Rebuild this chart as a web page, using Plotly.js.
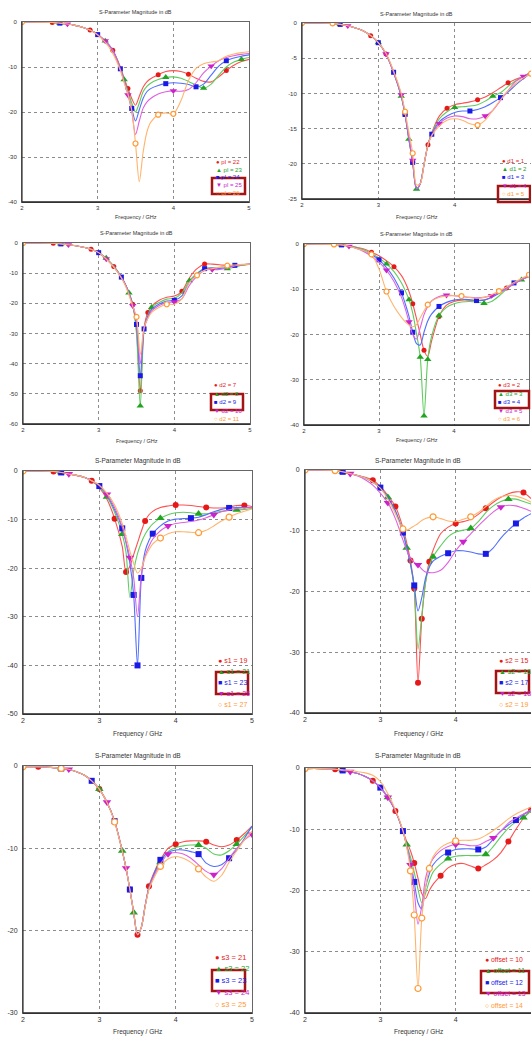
<!DOCTYPE html>
<html><head><meta charset="utf-8">
<script src="https://cdn.plot.ly/plotly-3.0.1.min.js"></script>
<style>html,body{margin:0;padding:0;background:#fff}#chart{width:531px;height:1038px}</style>
</head><body><div id="chart"></div>
<script>
// ---------------- DATA ----------------
const FREQ = [2.0,2.2,2.4,2.5,2.6,2.7,2.8,2.9,3.0,3.1,3.2,3.3,3.35,3.4,3.45,3.5,3.55,3.6,3.65,3.7,3.8,3.9,4.0,4.1,4.2,4.3,4.4,4.5,4.6,4.7,4.8,4.9,5.0];
const X_TICKS = [2,3,4,5];
const TITLE_TEXT = 'S-Parameter Magnitude in dB';
const XLABEL_TEXT = 'Frequency / GHz';

// Panel 1 (pl)
const p1_labels = ['pl = 22','pl = 23','pl = 24','pl = 25','pl = 26'];
const p1_yticks = [0,-10,-20,-30,-40];
const p1_a = [0,-0.05,-0.1,-0.25,-0.45,-0.75,-1.15,-1.8,-2.8,-4.2,-6.3,-10.0,-12.5,-14.8,-17.0,-18.5,-16.5,-14.5,-13.3,-12.6,-11.7,-11.0,-10.8,-11.0,-11.6,-12.5,-13.2,-13.3,-12.2,-10.8,-9.6,-8.8,-8.3];
const p1_b = [0,-0.05,-0.1,-0.25,-0.45,-0.75,-1.15,-1.8,-2.8,-4.2,-6.3,-10.2,-12.8,-15.3,-18.0,-20.0,-18.0,-15.5,-14.3,-13.6,-12.8,-12.3,-12.2,-12.5,-13.2,-14.0,-14.7,-13.8,-11.8,-10.0,-8.9,-8.3,-7.9];
const p1_c = [0,-0.05,-0.1,-0.25,-0.45,-0.75,-1.15,-1.8,-2.8,-4.2,-6.3,-10.4,-13.0,-15.7,-19.2,-22.0,-19.5,-17.0,-15.5,-14.8,-14.1,-13.7,-13.5,-13.6,-13.9,-14.4,-13.8,-11.8,-9.8,-8.6,-8.0,-7.6,-7.3];
const p1_d = [0,-0.05,-0.1,-0.25,-0.45,-0.75,-1.15,-1.8,-2.8,-4.2,-6.3,-10.5,-13.2,-16.2,-19.8,-25.0,-22.0,-19.2,-17.8,-17.0,-16.0,-15.5,-15.3,-15.4,-15.0,-13.5,-11.3,-9.8,-8.6,-7.9,-7.5,-7.2,-7.0];
const p1_e = [0,-0.05,-0.1,-0.25,-0.45,-0.75,-1.15,-1.8,-2.9,-4.5,-7.0,-10.8,-13.5,-16.0,-19.5,-27.0,-35.5,-29.0,-24.5,-22.3,-20.6,-20.2,-20.4,-17.5,-13.0,-10.3,-9.3,-8.9,-8.6,-7.6,-7.1,-6.8,-6.6];
const p1_marks = [[2.4,2.9,3.2,3.4,3.8,4.2,4.7],[2.5,3.1,3.35,3.9,4.4,4.9],[2.5,3.0,3.3,3.45,3.9,4.3,4.7],[2.6,3.1,3.4,4.0,4.5],[2.0,3.5,3.8,4.0]];

// Panel 2 (d1)
const p2_labels = ['d1 = 1','d1 = 2','d1 = 3','d1 = 4','d1 = 5'];
const p2_yticks = [0,-5,-10,-15,-20,-25];
const p2_a = [0,0,-0.05,-0.2,-0.4,-0.7,-1.1,-1.8,-2.8,-4.4,-7.0,-10.4,-13.0,-16.5,-19.8,-23.6,-22.8,-20.0,-17.3,-15.6,-13.2,-12.1,-11.6,-11.4,-11.2,-10.9,-10.5,-9.9,-9.2,-8.5,-8.0,-7.6,-7.0];
const p2_b = [0,0,-0.05,-0.2,-0.4,-0.7,-1.1,-1.8,-2.8,-4.4,-7.0,-10.4,-13.0,-16.5,-19.8,-23.6,-22.8,-20.0,-17.3,-15.7,-13.6,-12.6,-12.0,-11.9,-11.8,-11.6,-11.1,-10.4,-9.9,-9.0,-8.2,-7.6,-7.0];
const p2_c = [0,0,-0.05,-0.2,-0.4,-0.7,-1.1,-1.8,-2.8,-4.4,-7.0,-10.4,-13.0,-16.5,-19.8,-23.6,-22.8,-20.0,-17.3,-15.8,-14.0,-13.2,-12.7,-12.5,-12.5,-12.3,-11.9,-11.3,-10.6,-9.8,-8.8,-7.9,-7.1];
const p2_d = [0,0,-0.05,-0.2,-0.4,-0.7,-1.1,-1.8,-2.8,-4.4,-7.0,-10.2,-12.8,-16.2,-19.5,-23.5,-22.8,-20.0,-17.3,-15.9,-14.3,-13.5,-13.2,-13.3,-13.6,-13.6,-13.2,-12.4,-11.0,-9.6,-8.3,-7.6,-7.0];
const p2_e = [0,0,-0.05,-0.2,-0.4,-0.7,-1.1,-1.8,-2.8,-4.3,-6.8,-10.0,-12.6,-15.5,-18.5,-23.0,-22.8,-20.0,-17.3,-16.0,-14.6,-13.8,-13.6,-13.8,-14.3,-14.5,-13.8,-12.4,-10.9,-9.6,-8.6,-7.8,-7.2];
const p2_marks = [[2.4,2.9,3.1,3.35,3.45,3.65,3.9,4.3,4.7],[2.5,3.0,3.3,3.4,3.5,4.0,4.5],[2.5,3.0,3.2,3.35,3.45,3.7,4.2,4.6],[2.6,3.1,3.3,3.45,3.8,4.4,4.9],[2.0,2.4,3.35,3.45,4.3,5.0]];

// Panel 3 (d2)
const p3_labels = ['d2 = 7','d2 = 8','d2 = 9','d2 = 10','d2 = 11'];
const p3_yticks = [0,-10,-20,-30,-40,-50,-60];
const p3_a = [0,0,-0.1,-0.3,-0.6,-0.9,-1.4,-2.1,-3.2,-5.2,-7.8,-11.3,-13.6,-16.5,-20.3,-29.0,-49.0,-28.0,-23.0,-21.0,-19.0,-18.0,-17.6,-16.0,-11.5,-8.5,-7.0,-7.0,-7.2,-7.5,-7.6,-7.3,-7.0];
const p3_b = [0,0,-0.1,-0.3,-0.6,-0.9,-1.4,-2.1,-3.2,-5.0,-7.6,-11.2,-13.5,-16.5,-20.3,-30.0,-54.0,-29.0,-24.0,-21.3,-19.7,-18.6,-18.3,-16.5,-12.5,-10.0,-8.5,-8.2,-8.3,-8.5,-8.0,-7.4,-7.0];
const p3_c = [0,0,-0.1,-0.3,-0.6,-0.9,-1.4,-2.1,-3.2,-5.2,-7.8,-11.3,-13.6,-16.6,-20.5,-27.0,-44.0,-28.5,-24.3,-22.0,-20.2,-19.2,-19.0,-17.5,-13.0,-10.3,-8.5,-8.3,-8.4,-8.1,-7.4,-7.2,-7.0];
const p3_d = [0,0,-0.1,-0.3,-0.6,-0.9,-1.4,-2.1,-3.2,-5.3,-7.9,-11.4,-13.7,-16.8,-20.8,-25.5,-40.0,-28.5,-24.8,-22.5,-20.7,-19.7,-19.5,-18.5,-14.0,-11.0,-9.0,-8.8,-8.8,-8.3,-7.6,-7.2,-7.0];
const p3_e = [0,0,-0.1,-0.3,-0.6,-0.9,-1.4,-2.1,-3.2,-5.3,-8.0,-11.6,-14.0,-17.2,-21.0,-24.5,-37.0,-28.0,-25.0,-23.0,-21.3,-20.3,-20.3,-18.5,-13.0,-10.7,-9.0,-8.5,-8.0,-7.5,-7.3,-7.1,-7.0];
const p3_marks = [[2.4,2.9,3.2,3.45,3.55,3.65,4.1,4.4],[2.5,3.1,3.4,3.55,3.7,4.2,4.7],[2.5,3.0,3.3,3.5,3.55,3.6,4.0,4.4,4.8],[2.6,3.1,3.45,4.0,4.5],[2.0,3.5,3.9,4.3,4.7]];

// Panel 4 (d3)
const p4_labels = ['d3 = 2','d3 = 3','d3 = 4','d3 = 5','d3 = 6'];
const p4_yticks = [0,-10,-20,-30,-40];
const p4_a = [0,-0.05,-0.1,-0.2,-0.4,-0.7,-1.1,-1.8,-2.6,-3.7,-5.0,-7.0,-8.5,-10.5,-13.2,-16.5,-20.0,-23.5,-24.8,-21.5,-16.0,-13.5,-12.7,-12.4,-12.4,-12.5,-12.4,-11.7,-10.7,-9.7,-8.8,-7.9,-7.0];
const p4_b = [0,-0.05,-0.1,-0.2,-0.45,-0.8,-1.3,-2.1,-3.1,-4.4,-6.1,-8.6,-10.3,-12.3,-15.3,-19.8,-25.0,-38.0,-25.5,-20.5,-15.8,-14.0,-13.2,-12.8,-12.7,-12.8,-13.1,-12.7,-11.5,-10.0,-8.8,-7.9,-7.2];
const p4_c = [0,-0.05,-0.1,-0.2,-0.5,-0.9,-1.5,-2.3,-3.5,-5.2,-7.5,-10.8,-13.2,-16.0,-19.5,-22.0,-22.3,-19.5,-17.0,-15.5,-13.8,-12.9,-12.4,-12.2,-12.3,-12.5,-12.4,-11.8,-10.9,-9.6,-8.6,-7.8,-7.1];
const p4_d = [0,-0.05,-0.1,-0.2,-0.5,-1.0,-1.7,-2.7,-4.0,-5.8,-8.3,-11.8,-14.3,-17.2,-20.0,-21.0,-18.5,-15.6,-13.8,-12.6,-11.6,-11.3,-11.4,-11.6,-11.8,-11.9,-11.8,-11.4,-10.8,-9.9,-8.8,-7.9,-7.1];
const p4_e = [0,-0.05,-0.1,-0.2,-0.5,-1.0,-1.5,-2.3,-5.5,-10.5,-13.8,-16.2,-17.2,-17.9,-18.3,-17.8,-16.3,-14.8,-13.4,-12.6,-11.8,-11.5,-11.4,-11.5,-11.8,-12.0,-11.8,-11.2,-10.4,-9.5,-8.5,-7.6,-6.8];
const p4_marks = [[2.4,2.9,3.2,3.45,3.6,3.8,4.3,4.7],[2.5,3.1,3.4,3.55,3.6,3.65,3.8,4.4,4.9],[2.5,3.0,3.3,3.45,3.8,4.3,4.8],[2.6,3.1,3.4,3.9,4.5],[2.0,2.4,2.9,3.1,3.65,4.1,4.6,5.0]];

// Panel 5 (s1)
const p5_labels = ['s1 = 19','s1 = 21','s1 = 23','s1 = 25','s1 = 27'];
const p5_yticks = [0,-10,-20,-30,-40,-50];
const p5_a = [0,0,-0.1,-0.3,-0.6,-0.9,-1.3,-2.0,-3.4,-5.8,-9.8,-15.5,-20.8,-19.6,-17.2,-14.8,-12.4,-10.3,-9.0,-8.3,-7.5,-7.2,-7.0,-7.0,-7.1,-7.3,-7.5,-7.6,-7.6,-7.4,-7.1,-7.1,-7.3];
const p5_b = [0,0,-0.1,-0.3,-0.6,-0.9,-1.3,-2.0,-3.3,-5.3,-8.5,-13.0,-16.8,-26.0,-20.5,-17.0,-14.7,-13.0,-11.8,-10.9,-9.7,-9.0,-8.6,-8.5,-8.6,-8.8,-8.8,-8.6,-8.3,-8.1,-8.0,-7.9,-7.7];
const p5_c = [0,0,-0.1,-0.3,-0.6,-0.9,-1.3,-2.0,-3.1,-5.0,-8.0,-11.8,-14.8,-19.0,-25.5,-40.0,-22.0,-16.5,-14.3,-12.9,-11.3,-10.3,-9.9,-9.8,-9.7,-9.5,-9.0,-8.4,-7.9,-7.6,-7.5,-7.5,-7.5];
const p5_d = [0,0,-0.1,-0.3,-0.6,-0.9,-1.3,-2.0,-3.0,-4.8,-7.5,-11.5,-14.5,-17.8,-22.0,-30.0,-21.5,-17.5,-15.5,-14.0,-12.3,-11.3,-10.8,-10.6,-10.4,-10.1,-9.6,-9.0,-8.4,-8.0,-7.7,-7.6,-7.5];
const p5_e = [0,0,-0.1,-0.3,-0.6,-0.9,-1.3,-2.0,-2.9,-4.6,-7.0,-10.8,-13.5,-16.5,-19.0,-21.0,-20.0,-17.8,-16.2,-15.0,-13.8,-12.9,-12.5,-12.5,-12.6,-12.7,-12.2,-11.3,-10.3,-9.5,-8.8,-8.3,-7.8];
const p5_marks = [[2.4,2.9,3.2,3.35,3.6,4.0,4.4,4.9],[2.5,3.1,3.3,3.8,4.3,4.8],[2.5,3.0,3.3,3.45,3.5,3.55,3.7,4.2,4.7],[2.6,3.1,3.4,3.9,4.5],[2.0,3.8,4.3,4.7]];

// Panel 6 (s2)
const p6_labels = ['s2 = 15','s2 = 16','s2 = 17','s2 = 18','s2 = 19'];
const p6_yticks = [0,-10,-20,-30,-40];
const p6_a = [0,0,-0.1,-0.3,-0.6,-0.9,-1.2,-1.7,-2.7,-4.2,-6.0,-9.5,-12.0,-14.9,-19.5,-35.0,-24.5,-18.5,-15.1,-13.2,-10.5,-9.4,-8.8,-8.5,-8.1,-7.3,-6.3,-5.3,-4.5,-3.9,-3.6,-3.7,-4.7];
const p6_b = [0,0,-0.1,-0.3,-0.6,-0.9,-1.3,-2.0,-3.0,-4.5,-6.8,-10.2,-12.8,-15.5,-19.5,-29.5,-24.0,-18.5,-15.8,-14.3,-12.5,-11.0,-10.2,-9.9,-9.6,-8.5,-7.0,-5.9,-5.2,-4.8,-4.8,-5.2,-5.6];
const p6_c = [0,0,-0.1,-0.3,-0.6,-0.9,-1.3,-2.0,-2.9,-4.5,-6.7,-10.3,-12.8,-15.5,-19.0,-23.2,-21.0,-17.8,-16.0,-15.0,-14.2,-13.7,-13.3,-13.3,-13.5,-13.8,-13.8,-12.8,-11.2,-9.9,-8.8,-7.9,-7.2];
const p6_d = [0,0,-0.1,-0.3,-0.6,-1.0,-1.6,-2.5,-3.8,-5.4,-8.0,-11.5,-13.2,-14.5,-15.2,-15.6,-16.3,-16.8,-16.9,-16.9,-16.5,-15.2,-13.3,-11.8,-10.5,-9.2,-8.0,-6.9,-6.1,-5.8,-5.9,-6.3,-6.8];
const p6_e = [0,0,-0.1,-0.3,-0.6,-0.9,-1.3,-2.0,-3.0,-4.8,-7.2,-9.7,-9.9,-9.6,-9.2,-8.8,-8.3,-8.0,-7.8,-7.7,-8.0,-8.4,-8.5,-8.1,-7.7,-7.0,-6.0,-5.0,-4.4,-4.2,-4.3,-4.7,-5.3];
const p6_marks = [[2.4,2.9,3.2,3.4,3.45,3.5,3.55,3.65,4.0,4.4,4.9],[2.5,3.1,3.35,3.7,4.2,4.7],[2.5,3.0,3.3,3.45,3.9,4.4,4.8],[2.6,3.1,3.5,4.1,4.6],[2.0,2.4,3.3,3.7,4.2]];

// Panel 7 (s3)
const p7_labels = ['s3 = 21','s3 = 22','s3 = 23','s3 = 24','s3 = 25'];
const p7_yticks = [0,-10,-20,-30];
const p7_a = [-0.1,-0.1,-0.2,-0.3,-0.4,-0.7,-1.1,-1.8,-2.8,-4.4,-6.7,-10.3,-12.4,-15.0,-17.8,-20.5,-19.6,-17.0,-14.6,-13.3,-11.4,-10.0,-9.5,-9.2,-9.1,-9.1,-9.2,-9.6,-9.8,-9.6,-9.0,-8.2,-7.3];
const p7_b = [-0.1,-0.1,-0.2,-0.3,-0.45,-0.7,-1.1,-1.8,-2.8,-4.4,-6.7,-10.3,-12.4,-15.0,-17.8,-20.5,-19.6,-17.0,-14.8,-13.5,-11.7,-10.4,-9.9,-9.7,-9.6,-9.6,-10.0,-10.7,-10.8,-10.3,-9.5,-8.5,-7.4];
const p7_c = [-0.1,-0.1,-0.2,-0.3,-0.4,-0.7,-1.1,-1.8,-2.8,-4.4,-6.7,-10.3,-12.4,-15.0,-17.8,-20.5,-19.6,-17.0,-14.8,-13.5,-11.4,-10.5,-10.2,-10.2,-10.4,-10.7,-11.8,-12.2,-12.0,-11.2,-10.2,-8.8,-7.3];
const p7_d = [-0.1,-0.1,-0.2,-0.3,-0.4,-0.7,-1.1,-1.8,-2.8,-4.4,-6.7,-10.3,-12.4,-15.0,-17.8,-20.5,-19.6,-17.0,-14.9,-13.7,-11.9,-10.7,-10.5,-10.7,-11.2,-12.0,-12.8,-13.2,-12.5,-11.2,-10.0,-9.0,-8.3];
const p7_e = [-0.1,-0.1,-0.2,-0.3,-0.4,-0.7,-1.1,-1.8,-2.8,-4.4,-6.8,-10.3,-12.4,-15.0,-17.8,-20.5,-19.6,-17.1,-15.0,-13.9,-12.2,-11.3,-11.0,-11.2,-11.7,-12.5,-13.5,-14.0,-13.3,-11.7,-10.3,-9.0,-7.9];
const p7_marks = [[2.2,3.0,3.4,3.5,3.65,4.0,4.4,4.8],[2.5,3.0,3.3,3.45,3.8,4.3,4.8],[2.5,2.9,3.2,3.4,3.8,4.3,4.7],[2.6,3.1,3.35,3.9,4.5,5.0],[2.0,2.5,3.2,3.8,4.3]];

// Panel 8 (offset)
const p8_labels = ['offset = 10','offset = 11','offset = 12','offset = 13','offset = 14'];
const p8_yticks = [0,-10,-20,-30,-40];
const p8_a = [-0.1,-0.1,-0.2,-0.4,-0.6,-0.9,-1.4,-2.1,-3.2,-4.8,-7.0,-10.3,-12.0,-13.5,-15.5,-18.0,-20.5,-21.3,-20.0,-19.0,-17.6,-16.3,-15.7,-15.6,-16.0,-16.4,-15.8,-15.0,-13.8,-12.0,-10.0,-8.2,-6.8];
const p8_b = [-0.1,-0.1,-0.2,-0.4,-0.6,-0.9,-1.4,-2.1,-3.2,-4.8,-7.0,-10.3,-12.5,-14.5,-17.0,-19.8,-22.0,-20.5,-18.5,-17.0,-15.7,-14.8,-14.4,-14.3,-14.3,-14.3,-14.1,-12.8,-11.2,-9.8,-8.8,-8.1,-7.0];
const p8_c = [-0.1,-0.1,-0.2,-0.4,-0.6,-0.9,-1.4,-2.1,-3.2,-4.8,-7.0,-10.3,-12.7,-15.3,-18.6,-22.0,-23.0,-19.5,-17.3,-15.8,-14.5,-13.8,-13.3,-13.2,-13.2,-13.3,-12.9,-11.6,-10.3,-9.3,-8.5,-7.6,-6.9];
const p8_d = [-0.1,-0.1,-0.2,-0.4,-0.6,-0.9,-1.4,-2.1,-3.2,-4.8,-7.0,-10.3,-12.8,-15.8,-20.0,-25.5,-22.5,-18.0,-16.0,-14.8,-13.5,-12.8,-12.5,-12.5,-12.7,-12.6,-12.0,-11.4,-10.3,-9.0,-8.2,-7.5,-6.8];
const p8_e = [-0.1,-0.1,-0.2,-0.3,-0.4,-0.6,-0.8,-1.2,-2.2,-4.2,-6.8,-10.2,-12.9,-16.8,-24.0,-36.0,-24.5,-19.5,-16.4,-14.5,-13.0,-12.3,-11.9,-11.8,-11.8,-11.6,-11.0,-10.2,-9.3,-8.3,-7.5,-6.9,-6.4];
const p8_marks = [[2.4,2.9,3.2,3.45,3.8,4.3,4.7,5.0],[2.5,3.1,3.35,3.9,4.4,4.9],[2.5,3.0,3.3,3.45,3.9,4.3,4.8],[2.6,3.1,3.4,4.0,4.5],[2.0,3.4,3.45,3.5,3.55,3.65,4.0]];

const HIGHLIGHT = [3,4,2,2,2,2,2,2];

// ---------------- STYLE / LAYOUT ----------------
const W = 531, H = 1038;
const FONT = 'Liberation Sans, DejaVu Sans, Arial, sans-serif';
const LINE_COLORS = ['#ff5050','#5fcc5f','#4f6fff','#e060e0','#ffb46e'];
const MARK_COLORS = ['#e61919','#22a322','#1a1ae6','#cc22cc','#ff9933'];
const SYMBOLS = ['circle','triangle-up','square','triangle-down','circle'];
const GLYPHS = ['\u25CF','\u25B2','\u25A0','\u25BC','\u25CB'];

const PANELS = [
 {series:[p1_a,p1_b,p1_c,p1_d,p1_e], marks:p1_marks, labels:p1_labels, yt:p1_yticks,
  plot:[22,22,249,202], ty:12, fy:217, lx:214, ly:162, dy:7.75, box:[212,178,245,194], fs:6, tfs:6, ms:5},
 {series:[p2_a,p2_b,p2_c,p2_d,p2_e], marks:p2_marks, labels:p2_labels, yt:p2_yticks,
  plot:[302,23,531,199], ty:14, fy:217, lx:500, ly:161, dy:8.25, box:[498,186,530,202], fs:6, tfs:6, ms:5},
 {series:[p3_a,p3_b,p3_c,p3_d,p3_e], marks:p3_marks, labels:p3_labels, yt:p3_yticks,
  plot:[23,243,250,424], ty:233, fy:441, lx:212, ly:385, dy:8.5, box:[211,394,243,410], fs:6, tfs:6, ms:5},
 {series:[p4_a,p4_b,p4_c,p4_d,p4_e], marks:p4_marks, labels:p4_labels, yt:p4_yticks,
  plot:[304,244,529,425], ty:234, fy:440, lx:496, ly:385, dy:8.5, box:[495,391,529,408], fs:6, tfs:6, ms:5},
 {series:[p5_a,p5_b,p5_c,p5_d,p5_e], marks:p5_marks, labels:p5_labels, yt:p5_yticks,
  plot:[23,471,252,714], ty:461, fy:734, lx:216, ly:660, dy:11, box:[216,672,248,694], fs:7, tfs:7, ms:6},
 {series:[p6_a,p6_b,p6_c,p6_d,p6_e], marks:p6_marks, labels:p6_labels, yt:p6_yticks,
  plot:[305,470,531,713], ty:461, fy:734, lx:497, ly:660, dy:11, box:[496,671,529,693], fs:7, tfs:7, ms:6},
 {series:[p7_a,p7_b,p7_c,p7_d,p7_e], marks:p7_marks, labels:p7_labels, yt:p7_yticks,
  plot:[23,766,252,1013], ty:756, fy:1032, lx:213, ly:957, dy:11.75, box:[212,970,245,991], fs:7.5, tfs:7, ms:6},
 {series:[p8_a,p8_b,p8_c,p8_d,p8_e], marks:p8_marks, labels:p8_labels, yt:p8_yticks,
  plot:[305,768,531,1013], ty:756, fy:1032, lx:483, ly:959, dy:11.5, box:[481,971,529,993], fs:6.8, tfs:7, ms:6},
];

const traces = [];
const layout = {
  width: W, height: H, autosize: false,
  margin: {l:0, r:0, t:0, b:0, pad:0},
  paper_bgcolor: '#ffffff', plot_bgcolor: '#ffffff',
  showlegend: false, hovermode: false,
  font: {family: FONT, color: '#333'},
  annotations: [], shapes: []
};

PANELS.forEach((P, i) => {
  const n = i === 0 ? '' : String(i + 1);
  const xa = 'x' + n, ya = 'y' + n;
  const [x0, y0, x1, y1] = P.plot;
  P.series.forEach((ys, j) => {
    const mk = P.marks[j];
    const isMk = FREQ.map(f => mk.includes(f));
    const sz = (j === 1 || j === 3) ? P.ms + 1.5 : P.ms;
    traces.push({
      x: FREQ, y: ys, xaxis: xa, yaxis: ya, type: 'scatter', mode: 'lines+markers',
      line: {color: LINE_COLORS[j], width: 1.1, shape: 'spline', smoothing: 0.8},
      marker: {
        symbol: SYMBOLS[j],
        size: isMk.map(b => b ? sz : 0),
        opacity: isMk.map(b => b ? 1 : 0),
        color: j === 4 ? '#ffffff' : MARK_COLORS[j],
        line: {color: MARK_COLORS[j], width: j === 4 ? 1.2 : 0}
      },
      cliponaxis: true, showlegend: false, hoverinfo: 'skip'
    });
  });
  const tickFont = {family: FONT, size: P.tfs, color: '#333'};
  layout['xaxis' + n] = {
    domain: [x0 / W, x1 / W], range: [2, 5], anchor: ya,
    tickvals: X_TICKS, ticktext: X_TICKS.map(String), tickfont: tickFont,
    showgrid: true, gridcolor: '#8c8c8c', griddash: 'dot', gridwidth: 1,
    showline: true, mirror: true, linecolor: '#666', linewidth: 1,
    zeroline: false, ticks: '', fixedrange: true
  };
  layout['yaxis' + n] = {
    domain: [1 - y1 / H, 1 - y0 / H], range: [Math.min(...P.yt), Math.max(...P.yt)], anchor: xa,
    tickvals: P.yt, ticktext: P.yt.map(String), tickfont: tickFont,
    showgrid: true, gridcolor: '#8c8c8c', griddash: 'dot', gridwidth: 1,
    showline: true, mirror: true, linecolor: '#666', linewidth: 1,
    zeroline: false, ticks: '', ticklabelstandoff: 3, fixedrange: true
  };
  // darker bottom and left frame edges
  layout.shapes.push({type:'line', xref:'paper', yref:'paper', x0:x0/W, x1:Math.min(x1,W)/W, y0:1-y1/H, y1:1-y1/H, line:{color:'#222', width:1.6}, layer:'above'});
  layout.shapes.push({type:'line', xref:'paper', yref:'paper', x0:x0/W, x1:x0/W, y0:1-y1/H, y1:1-y0/H, line:{color:'#333', width:1.2}, layer:'above'});
  const cx = (x0 + Math.min(x1, W)) / 2;
  layout.annotations.push({
    text: TITLE_TEXT, x: cx / W, y: 1 - P.ty / H, xref: 'paper', yref: 'paper',
    xanchor: 'center', yanchor: 'middle', showarrow: false,
    font: {family: FONT, size: P.tfs - 0.5, color: '#333'}
  });
  layout.annotations.push({
    text: XLABEL_TEXT, x: cx / W, y: 1 - P.fy / H, xref: 'paper', yref: 'paper',
    xanchor: 'center', yanchor: 'middle', showarrow: false,
    font: {family: FONT, size: P.tfs - 0.5, color: '#333'}
  });
  P.labels.forEach((lab, k) => {
    layout.annotations.push({
      text: GLYPHS[k] + ' ' + lab, x: P.lx / W, y: 1 - (P.ly + k * P.dy) / H,
      xref: 'paper', yref: 'paper', xanchor: 'left', yanchor: 'middle', showarrow: false,
      font: {family: FONT, size: P.fs, color: MARK_COLORS[k]}
    });
  });
  const b = P.box;
  layout.shapes.push({
    type: 'rect', xref: 'paper', yref: 'paper',
    x0: b[0] / W, x1: b[2] / W, y0: 1 - b[3] / H, y1: 1 - b[1] / H,
    line: {color: '#a31515', width: 2.5}, fillcolor: 'rgba(0,0,0,0)', layer: 'above'
  });
});

Plotly.newPlot('chart', traces, layout, {staticPlot: true, displayModeBar: false});
</script>
</body></html>
